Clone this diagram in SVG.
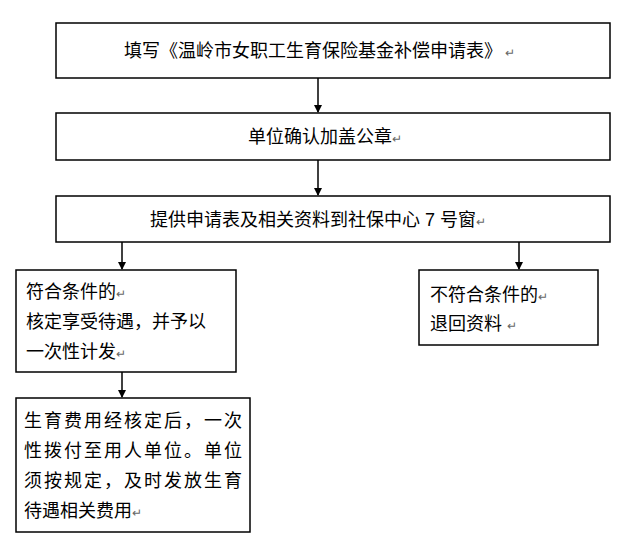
<svg xmlns="http://www.w3.org/2000/svg" width="640" height="552" viewBox="0 0 640 552">
<style>
.b{fill:#fff;stroke:#000;stroke-width:1.5}
.t{font-family:"Liberation Sans","Noto Sans CJK SC",sans-serif;font-size:18px;fill:#000}
.r{font-size:12px;fill:#666}
.c{stroke:#000;stroke-width:1.5;fill:none;marker-end:url(#a)}
</style>
<defs><marker id="a" markerWidth="8" markerHeight="8" refX="7" refY="4" orient="auto" markerUnits="userSpaceOnUse"><path d="M0,0 L8,4 L0,8 z" fill="#000"/></marker></defs>
<rect width="640" height="552" fill="#fff"/>
<g id="connectors">
<line class="c" x1="318" y1="78" x2="318" y2="112"/>
<line class="c" x1="318" y1="160" x2="318" y2="195"/>
<line class="c" x1="122" y1="242" x2="122" y2="269"/>
<line class="c" x1="519" y1="242" x2="519" y2="269"/>
<line class="c" x1="122" y1="372" x2="122" y2="397"/>
</g>
<g id="n1"><rect class="b" x="56" y="23" width="554" height="55"/><text class="t" x="124" y="57">填写《温岭市女职工生育保险基金补偿申请表》<tspan class="r"> ↵</tspan></text></g>
<g id="n2"><rect class="b" x="56" y="113" width="554" height="47"/><text class="t" x="248" y="143">单位确认加盖公章<tspan class="r">↵</tspan></text></g>
<g id="n3"><rect class="b" x="56" y="196" width="554" height="46"/><text class="t" x="150" y="226">提供申请表及相关资料到社保中心 7 号窗<tspan class="r">↵</tspan></text></g>
<g id="n4"><rect class="b" x="16" y="270" width="220" height="102"/><text class="t"><tspan x="26" y="298">符合条件的<tspan class="r">↵</tspan></tspan><tspan x="26" y="328">核定享受待遇，并予以</tspan><tspan x="26" y="358">一次性计发<tspan class="r">↵</tspan></tspan></text></g>
<g id="n5"><rect class="b" x="419" y="270" width="179" height="75"/><text class="t"><tspan x="430" y="301">不符合条件的<tspan class="r">↵</tspan></tspan><tspan x="430" y="330">退回资料 <tspan class="r"> ↵</tspan></tspan></text></g>
<g id="n6"><rect class="b" x="16" y="398" width="234" height="134"/><text class="t"><tspan x="24" y="427" textLength="218">生育费用经核定后，一次</tspan><tspan x="24" y="457" textLength="218">性拨付至用人单位。单位</tspan><tspan x="24" y="487" textLength="218">须按规定，及时发放生育</tspan><tspan x="24" y="517">待遇相关费用<tspan class="r">↵</tspan></tspan></text></g>
</svg>
